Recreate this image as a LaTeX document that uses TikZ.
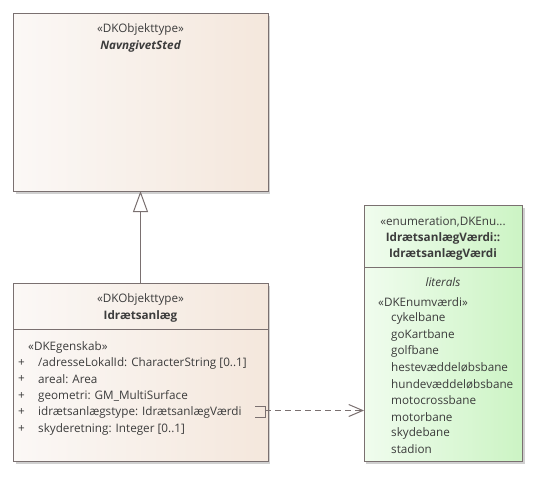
\documentclass[tikz,border=0pt]{standalone}
\usepackage{fontspec}
\setmainfont{Open Sans}
\usetikzlibrary{arrows.meta}
\definecolor{txt}{HTML}{3C3C3C}
\definecolor{bord}{HTML}{7A7070}
\definecolor{beigeL}{HTML}{FBF8F6}
\definecolor{beigeR}{HTML}{F4E7DC}
\definecolor{greenL}{HTML}{F0FCEE}
\definecolor{greenR}{HTML}{CCF4C4}
\definecolor{shadowc}{HTML}{D0D0D0}
\tikzset{
  x=1pt,y=-1pt,
  cls/.style={draw=bord, line width=1pt, left color=beigeL, right color=beigeR},
  enm/.style={draw=bord, line width=1pt, left color=greenL, right color=greenR},
  shad/.style={fill=shadowc},
  sep/.style={draw=bord, line width=1pt},
  t/.style={text=txt, font=\fontsize{11.7}{13}\selectfont, inner sep=0pt, yshift=-1.5pt},
  tb/.style={t, font=\fontsize{11.7}{13}\selectfont\bfseries},
  lt/.style={t, anchor=west},
  conn/.style={draw=bord, line width=1pt},
}
\begin{document}
\begin{tikzpicture}
\useasboundingbox (0,0) rectangle (535,499);
\fill[white] (0,0) rectangle (535,499);
% shadows
\fill[shad] (16,16) rectangle (270,194);
\fill[shad] (16,286) rectangle (270,464);
\fill[shad] (366,208) rectangle (525,464);
% boxes
\path[cls] (13,13) rectangle (268,191);
\path[cls] (13,283) rectangle (268,461);
\path[enm] (364,205) rectangle (522,461);
\draw[sep] (13,329) -- (268,329);
\draw[sep] (364,267) -- (522,267);
% box 1
\node[t] (s1) at (140.5,28) {«DKObjekttype»};
\node[tb, font=\fontsize{11.7}{13}\selectfont\bfseries\itshape] (n1) at (140.5,45) {NavngivetSted};
% box 2
\node[t] (s2) at (140.5,298) {«DKObjekttype»};
\node[tb] (n2) at (140.5,315) {Idrætsanlæg};
\node[lt] (st2) at (28,346) {«DKEgenskab»};
\foreach \y/\txtv [count=\i] in {362/{/adresseLokalId: CharacterString [0..1]},378/{areal: Area},395/{geometri: GM\_MultiSurface},411/{idrætsanlægstype: IdrætsanlægVærdi},428/{skyderetning: Integer [0..1]}}{
  \node[lt] (p\i) at (18,\y) {+};
  \node[lt] (a\i) at (38,\y) {\txtv};
}
% box 3
\node[t] (s3) at (443,220) {«enumeration,DKEnu...};
\node[tb] (n3a) at (443,237) {IdrætsanlægVærdi::};
\node[tb] (n3b) at (443,253) {IdrætsanlægVærdi};
\node[t, font=\fontsize{11.7}{13}\selectfont\itshape] (lit) at (443,281) {literals};
\node[lt] (st3) at (378,301) {«DKEnumværdi»};
\foreach \y/\txtv [count=\i] in {317/cykelbane,334/goKartbane,350/golfbane,366/hestevæddeløbsbane,383/hundevæddeløbsbane,399/motocrossbane,416/motorbane,432/skydebane,448/stadion}{
  \node[lt] (l\i) at (391,\y) {\txtv};
}
% generalization
\coordinate (g0) at (140.5,283);
\coordinate (g1) at (140.5,191);
\draw[conn, -{Triangle[open, length=21pt, width=15pt, fill=white]}] (g0) -- (g1);
% dependency
\coordinate (d0) at (265,410.5);
\coordinate (d1) at (364,410.5);
\draw[conn] (255,406) -- (265,406) -- (265,417) -- (255,417);
\draw[conn, dashed, dash pattern=on 6pt off 4pt, -{Straight Barb[length=14pt, width=12pt]}] (d0) -- (d1);
\end{tikzpicture}
\end{document}
